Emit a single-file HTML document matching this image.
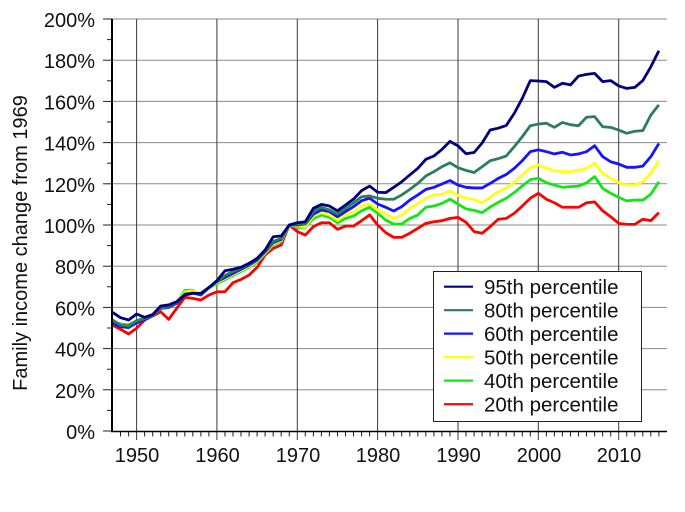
<!DOCTYPE html>
<html><head><meta charset="utf-8"><style>
html,body{margin:0;padding:0;background:#fff;}
svg{display:block;}
text{font-family:"Liberation Sans",Arial,sans-serif;fill:#111;}
</style></head><body>
<svg width="685" height="512" viewBox="0 0 685 512" xmlns="http://www.w3.org/2000/svg">
<rect width="685" height="512" fill="#fff"/>
<!-- horizontal gridlines -->
<g stroke="#8a8a8a" stroke-width="1">
<line x1="112" y1="19" x2="667" y2="19"/>
<line x1="112" y1="60.2" x2="667" y2="60.2"/>
<line x1="112" y1="101.4" x2="667" y2="101.4"/>
<line x1="112" y1="142.6" x2="667" y2="142.6"/>
<line x1="112" y1="183.8" x2="667" y2="183.8"/>
<line x1="112" y1="225" x2="667" y2="225"/>
<line x1="112" y1="266.2" x2="667" y2="266.2"/>
<line x1="112" y1="307.4" x2="667" y2="307.4"/>
<line x1="112" y1="348.6" x2="667" y2="348.6"/>
<line x1="112" y1="389.8" x2="667" y2="389.8"/>
</g>
<!-- vertical gridlines + major ticks -->
<g stroke="#3a3a3a" stroke-width="1">
<line x1="136.6" y1="19" x2="136.6" y2="440"/>
<line x1="216.9" y1="19" x2="216.9" y2="440"/>
<line x1="297.3" y1="19" x2="297.3" y2="440"/>
<line x1="377.6" y1="19" x2="377.6" y2="440"/>
<line x1="458" y1="19" x2="458" y2="440"/>
<line x1="538.3" y1="19" x2="538.3" y2="440"/>
<line x1="618.7" y1="19" x2="618.7" y2="440"/>
</g>
<!-- minor x ticks -->
<g stroke="#222" stroke-width="1">
<line x1="120.5" y1="431" x2="120.5" y2="436.5"/><line x1="128.6" y1="431" x2="128.6" y2="436.5"/>
<line x1="144.6" y1="431" x2="144.6" y2="436.5"/><line x1="152.7" y1="431" x2="152.7" y2="436.5"/><line x1="160.7" y1="431" x2="160.7" y2="436.5"/><line x1="168.7" y1="431" x2="168.7" y2="436.5"/><line x1="176.8" y1="431" x2="176.8" y2="436.5"/><line x1="184.8" y1="431" x2="184.8" y2="436.5"/><line x1="192.8" y1="431" x2="192.8" y2="436.5"/><line x1="200.9" y1="431" x2="200.9" y2="436.5"/><line x1="208.9" y1="431" x2="208.9" y2="436.5"/>
<line x1="225" y1="431" x2="225" y2="436.5"/><line x1="233" y1="431" x2="233" y2="436.5"/><line x1="241" y1="431" x2="241" y2="436.5"/><line x1="249.1" y1="431" x2="249.1" y2="436.5"/><line x1="257.1" y1="431" x2="257.1" y2="436.5"/><line x1="265.1" y1="431" x2="265.1" y2="436.5"/><line x1="273.2" y1="431" x2="273.2" y2="436.5"/><line x1="281.2" y1="431" x2="281.2" y2="436.5"/><line x1="289.3" y1="431" x2="289.3" y2="436.5"/>
<line x1="305.3" y1="431" x2="305.3" y2="436.5"/><line x1="313.4" y1="431" x2="313.4" y2="436.5"/><line x1="321.4" y1="431" x2="321.4" y2="436.5"/><line x1="329.4" y1="431" x2="329.4" y2="436.5"/><line x1="337.5" y1="431" x2="337.5" y2="436.5"/><line x1="345.5" y1="431" x2="345.5" y2="436.5"/><line x1="353.5" y1="431" x2="353.5" y2="436.5"/><line x1="361.6" y1="431" x2="361.6" y2="436.5"/><line x1="369.6" y1="431" x2="369.6" y2="436.5"/>
<line x1="385.7" y1="431" x2="385.7" y2="436.5"/><line x1="393.7" y1="431" x2="393.7" y2="436.5"/><line x1="401.7" y1="431" x2="401.7" y2="436.5"/><line x1="409.8" y1="431" x2="409.8" y2="436.5"/><line x1="417.8" y1="431" x2="417.8" y2="436.5"/><line x1="425.8" y1="431" x2="425.8" y2="436.5"/><line x1="433.9" y1="431" x2="433.9" y2="436.5"/><line x1="441.9" y1="431" x2="441.9" y2="436.5"/><line x1="450" y1="431" x2="450" y2="436.5"/>
<line x1="466" y1="431" x2="466" y2="436.5"/><line x1="474.1" y1="431" x2="474.1" y2="436.5"/><line x1="482.1" y1="431" x2="482.1" y2="436.5"/><line x1="490.1" y1="431" x2="490.1" y2="436.5"/><line x1="498.2" y1="431" x2="498.2" y2="436.5"/><line x1="506.2" y1="431" x2="506.2" y2="436.5"/><line x1="514.2" y1="431" x2="514.2" y2="436.5"/><line x1="522.3" y1="431" x2="522.3" y2="436.5"/><line x1="530.3" y1="431" x2="530.3" y2="436.5"/>
<line x1="546.4" y1="431" x2="546.4" y2="436.5"/><line x1="554.4" y1="431" x2="554.4" y2="436.5"/><line x1="562.4" y1="431" x2="562.4" y2="436.5"/><line x1="570.5" y1="431" x2="570.5" y2="436.5"/><line x1="578.5" y1="431" x2="578.5" y2="436.5"/><line x1="586.5" y1="431" x2="586.5" y2="436.5"/><line x1="594.6" y1="431" x2="594.6" y2="436.5"/><line x1="602.6" y1="431" x2="602.6" y2="436.5"/><line x1="610.7" y1="431" x2="610.7" y2="436.5"/>
<line x1="626.7" y1="431" x2="626.7" y2="436.5"/><line x1="634.8" y1="431" x2="634.8" y2="436.5"/><line x1="642.8" y1="431" x2="642.8" y2="436.5"/><line x1="650.8" y1="431" x2="650.8" y2="436.5"/><line x1="658.9" y1="431" x2="658.9" y2="436.5"/>
</g>
<!-- y ticks -->
<g stroke="#222" stroke-width="1">
<line x1="103" y1="19" x2="112" y2="19"/><line x1="103" y1="60.2" x2="112" y2="60.2"/><line x1="103" y1="101.4" x2="112" y2="101.4"/><line x1="103" y1="142.6" x2="112" y2="142.6"/><line x1="103" y1="183.8" x2="112" y2="183.8"/><line x1="103" y1="225" x2="112" y2="225"/><line x1="103" y1="266.2" x2="112" y2="266.2"/><line x1="103" y1="307.4" x2="112" y2="307.4"/><line x1="103" y1="348.6" x2="112" y2="348.6"/><line x1="103" y1="389.8" x2="112" y2="389.8"/><line x1="103" y1="431" x2="112" y2="431"/>
<line x1="107" y1="39.6" x2="112" y2="39.6"/><line x1="107" y1="80.8" x2="112" y2="80.8"/><line x1="107" y1="122" x2="112" y2="122"/><line x1="107" y1="163.2" x2="112" y2="163.2"/><line x1="107" y1="204.4" x2="112" y2="204.4"/><line x1="107" y1="245.6" x2="112" y2="245.6"/><line x1="107" y1="286.8" x2="112" y2="286.8"/><line x1="107" y1="328" x2="112" y2="328"/><line x1="107" y1="369.2" x2="112" y2="369.2"/><line x1="107" y1="410.4" x2="112" y2="410.4"/>
</g>
<!-- data series -->
<g fill="none" stroke-width="2.8" stroke-linejoin="round" transform="matrix(8.035 0 0 -2.06 112.5 431)">
<polyline vector-effect="non-scaling-stroke" stroke="#ff0000" points="0,51.4 1,49.4 2,47.1 3,49.9 4,53.9 5,55.8 6,57.9 7,54.2 8,59.6 9,64.9 10,64.4 11,63.6 12,66 13,67.6 14,67.6 15,72 16,73.6 17,75.7 18,79.5 19,85.4 20,88.7 21,90.3 22,100 23,96.8 24,95.1 25,99.2 26,101.1 27,101.1 28,97.9 29,99.5 30,99.5 31,102.1 32,104.9 33,100 34,96.3 35,94 36,94 37,96 38,98.4 39,100.8 40,101.6 41,102.1 42,103.2 43,103.7 44,101.3 45,96.8 46,96 47,99.2 48,102.8 49,103.2 50,105.7 51,109.2 52,113 53,115.4 54,112.5 55,110.8 56,108.6 57,108.6 58,108.6 59,110.8 60,111.2 61,106.9 62,104 63,100.8 64,100.3 65,100.3 66,102.8 67,102.1 68,106"/>
<polyline vector-effect="non-scaling-stroke" stroke="#14e614" points="0,53 1,52 2,51.5 3,53.5 4,55 5,56.5 6,60 7,60 8,62.5 9,68.3 10,68.3 11,66.5 12,69.5 13,71.5 14,73.5 15,75.5 16,77.5 17,79.5 18,82 19,86 20,90.5 21,92 22,100 23,98.8 24,98.9 25,103.2 26,104.9 27,103.7 28,101.1 29,103.2 30,104.4 31,106.9 32,108.6 33,105.7 34,102.4 35,100.5 36,100.5 37,103.2 38,104.9 39,108.6 40,109.2 41,110.5 42,112.5 43,110.2 44,107.8 45,107.1 46,106 47,108.7 48,111 49,113 50,115.7 51,119 52,122 53,122.7 54,120.5 55,119.4 56,118.3 57,118.6 58,118.9 59,120.5 60,123.5 61,117.8 62,115.4 63,113.4 64,111.7 65,112.1 66,112.1 67,115 68,121"/>
<polyline vector-effect="non-scaling-stroke" stroke="#ffff1a" points="0,53 1,51.5 2,51 3,53 4,54.5 5,56.5 6,60 7,60 8,62.5 9,67.5 10,68 11,67 12,69.5 13,72 14,74 15,76 16,78 17,80 18,82.5 19,86.5 20,91 21,92.5 22,100 23,99.5 24,99.2 25,104.4 26,106 27,104.9 28,102.4 29,104.9 30,106.5 31,109.2 32,110.2 33,107.3 34,105.3 35,103.2 36,104.9 37,108.1 38,110.5 39,113 40,114.6 41,115 42,116.5 43,114.3 44,113.2 45,112.3 46,110.8 47,113.5 48,116.2 49,118 50,120.7 51,124.3 52,127.9 53,129.1 54,127.5 55,126.4 56,125.9 57,125.9 58,126.7 59,127.5 60,130 61,125.1 62,122.7 63,120.5 64,119.4 65,119.4 66,121 67,125.1 68,131.2"/>
<polyline vector-effect="non-scaling-stroke" stroke="#1414ff" points="0,52.3 1,50.6 2,50.2 3,52.5 4,54 5,56 6,59.5 7,60 8,62 9,66.5 10,67 11,66 12,69.5 13,72.5 14,74.5 15,76.5 16,78.5 17,80.5 18,83 19,87 20,91.5 21,93 22,100 23,100 24,100.5 25,105.3 26,107.3 27,106.5 28,104 29,106.5 30,108.9 31,111.8 32,113 33,110.2 34,108.6 35,106.8 36,108.9 37,112.1 38,114.6 39,117.3 40,118.3 41,119.9 42,121.6 43,119.4 44,118.3 45,118 46,118 47,120.2 48,122.6 49,124.5 50,127.5 51,131.2 52,135.6 53,136.5 54,135.6 55,134.5 56,135.3 57,134 58,134.5 59,135.6 60,138.5 61,133.2 62,130.7 63,129.6 64,128 65,128 66,128.6 67,133.2 68,139.6"/>
<polyline vector-effect="non-scaling-stroke" stroke="#2e7d57" points="0,53.9 1,51.4 2,51 3,53.5 4,54.5 5,56 6,59.5 7,60.5 8,62.5 9,66.5 10,67 11,66.5 12,69.5 13,72.5 14,75.5 15,77.5 16,79 17,81 18,83.5 19,87.5 20,92 21,93.5 22,100 23,100.5 24,100.5 25,106.5 26,108.6 27,107.3 28,105.3 29,108.1 30,110.8 31,113.7 32,114.1 33,113 34,112.5 35,112.5 36,114.6 37,117.3 38,120.2 39,123.8 40,125.9 41,128.3 42,130.2 43,127.8 44,126.5 45,125.5 46,128.3 47,131.2 48,132.2 49,133.5 50,138 51,142.9 52,148.2 53,149 54,149.4 55,147.4 56,149.8 57,148.7 58,148.2 59,152.3 60,152.6 61,147.7 62,147.4 63,146.1 64,144.5 65,145.5 66,145.8 67,153.4 68,158.3"/>
<polyline vector-effect="non-scaling-stroke" stroke="#00007f" points="0,57.6 1,55 2,53.9 3,56.8 4,55.2 5,56.5 6,60.7 7,61.2 8,62.8 9,66 10,66.8 11,66.8 12,69.7 13,73 14,77.8 15,78.5 16,79.5 17,81.4 18,83.8 19,87.9 20,94.3 21,94.7 22,100 23,101.1 24,101.6 25,108.1 26,110 27,109.2 28,106.9 29,109.7 30,112.6 31,116.7 32,118.9 33,115.9 34,115.7 35,118.3 36,121 37,124.3 38,127.5 39,131.9 40,133.5 41,136.7 42,140.6 43,138.4 44,134.6 45,135.2 46,139.8 47,146.1 48,147 49,148.3 50,154.2 51,161.5 52,170.1 53,169.9 54,169.6 55,166.8 56,168.8 57,168 58,172.3 59,173.1 60,173.6 61,169.6 62,170.1 63,167.5 64,166.3 65,166.8 66,170.1 67,176.8 68,184.6"/>
</g>
<!-- axes -->
<line x1="112" y1="19" x2="112" y2="432" stroke="#000" stroke-width="2"/>
<line x1="111" y1="431.5" x2="667" y2="431.5" stroke="#000" stroke-width="1.5"/>
<!-- y labels -->
<g font-size="20" text-anchor="end">
<text x="95" y="27">200%</text>
<text x="95" y="68.2">180%</text>
<text x="95" y="109.4">160%</text>
<text x="95" y="150.6">140%</text>
<text x="95" y="191.8">120%</text>
<text x="95" y="233">100%</text>
<text x="95" y="274.2">80%</text>
<text x="95" y="315.4">60%</text>
<text x="95" y="356.6">40%</text>
<text x="95" y="397.8">20%</text>
<text x="95" y="439">0%</text>
</g>
<!-- x labels -->
<g font-size="20" text-anchor="middle">
<text x="137" y="462">1950</text>
<text x="217.5" y="462">1960</text>
<text x="298" y="462">1970</text>
<text x="378" y="462">1980</text>
<text x="458.5" y="462">1990</text>
<text x="539" y="462">2000</text>
<text x="619" y="462">2010</text>
</g>
<text x="0" y="0" font-size="20" text-anchor="middle" transform="translate(27,243) rotate(-90)">Family income change from 1969</text>
<!-- legend -->
<rect x="433.5" y="271.5" width="208" height="150" fill="#fff" stroke="#222" stroke-width="1"/>
<g stroke-width="2.2">
<line x1="444" y1="286.7" x2="473" y2="286.7" stroke="#00007f"/>
<line x1="444" y1="310.2" x2="473" y2="310.2" stroke="#2e7d57"/>
<line x1="444" y1="333.6" x2="473" y2="333.6" stroke="#1414ff"/>
<line x1="444" y1="357.1" x2="473" y2="357.1" stroke="#ffff1a"/>
<line x1="444" y1="380.6" x2="473" y2="380.6" stroke="#14e614"/>
<line x1="444" y1="404.2" x2="473" y2="404.2" stroke="#ff0000"/>
</g>
<g font-size="20.5">
<text x="484" y="294">95th percentile</text>
<text x="484" y="317.5">80th percentile</text>
<text x="484" y="341">60th percentile</text>
<text x="484" y="364.5">50th percentile</text>
<text x="484" y="388">40th percentile</text>
<text x="484" y="411.5">20th percentile</text>
</g>
</svg>
</body></html>
